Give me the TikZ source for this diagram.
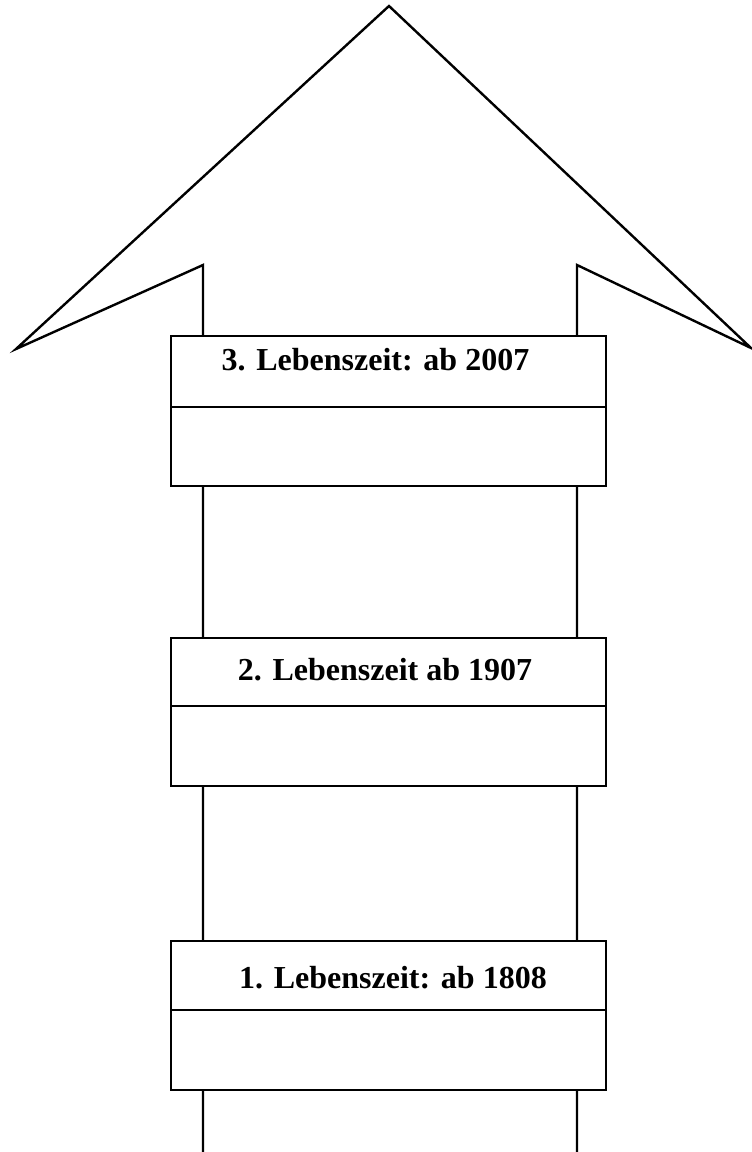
\documentclass[tikz,border=0pt]{standalone}
\usepackage{fontspec}
\setmainfont{Liberation Serif}
\usepackage{tikz}

\tikzset{
	kasten/.style={draw, fill=white, line width=1.8pt, inner sep=0pt, minimum width=326.25pt},
	titel/.style={anchor=base, inner sep=0pt, font=\fontsize{24}{28}\selectfont\bfseries}
}

\begin{document}
\begin{tikzpicture}[x=0.75pt, y=-0.75pt, line width=1.8pt, line join=miter]
	\useasboundingbox (0, 0) rectangle (752, 1152);

	% Pfeil
	\coordinate (spitze) at (389, 6);
	\coordinate (flL) at (16, 349);
	\coordinate (flR) at (751, 348);
	\coordinate (kerbeL) at (203, 265);
	\coordinate (kerbeR) at (577, 265);
	\coordinate (fussL) at (203, 1152);
	\coordinate (fussR) at (577, 1152);
	\draw (fussL) -- (kerbeL) -- (flL) -- (spitze) -- (flR) -- (kerbeR) -- (fussR);

	% Kaesten
	\node[kasten, minimum height=53.25pt] (k3) at (388.5, 371.5) {};
	\node[kasten, minimum height=59.25pt] (f3) at (388.5, 446.5) {};
	\node[kasten, minimum height=51pt] (k2) at (388.5, 672) {};
	\node[kasten, minimum height=60pt] (f2) at (388.5, 746) {};
	\node[kasten, minimum height=51.75pt] (k1) at (388.5, 975.5) {};
	\node[kasten, minimum height=60pt] (f1) at (388.5, 1050) {};

	\node[titel] (t3) at (375.5, 370) {3. Lebenszeit: ab 2007};
	\node[titel] (t2) at (385, 680) {2. Lebenszeit ab 1907};
	\node[titel] (t1) at (393, 988) {1. Lebenszeit: ab 1808};
\end{tikzpicture}
\end{document}
